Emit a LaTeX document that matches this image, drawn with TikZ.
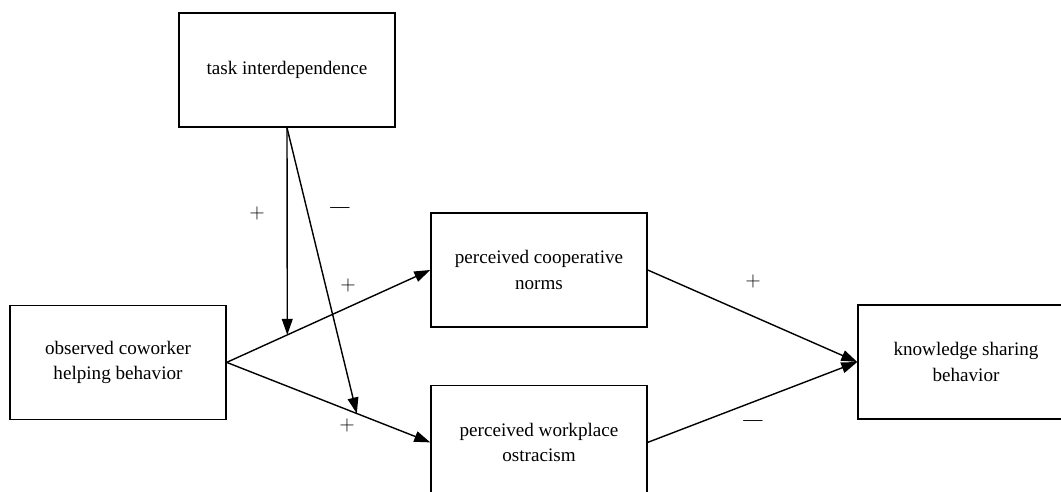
\documentclass[tikz,border=0pt]{standalone}
\usepackage{fontspec}
\setmainfont{Liberation Serif}
\usetikzlibrary{arrows.meta}

\begin{document}
\begin{tikzpicture}[every node/.style={font=\fontsize{13.6}{18.4}\selectfont}, >={Triangle[length=4mm, width=2.7mm]}, box/.style={draw, line width=1pt, minimum width=5.4cm, minimum height=2.85cm, align=center, inner sep=0pt}, lab/.style={inner sep=1pt}, arr/.style={->, line width=1pt}]
	\useasboundingbox (0,0) rectangle (26.525,12.3);
	\node[box] (task) at (7.175,10.55) {task interdependence};
	\node[box] (obs) at (2.95,3.24) {observed coworker\\helping behavior};
	\node[box] (coop) at (13.475,5.55) {perceived cooperative\\norms};
	\node[box] (ostr) at (13.475,1.24) {perceived workplace\\ostracism};
	\node[box] (know) at (24.15,3.25) {knowledge sharing\\behavior};
	\draw[arr] (obs.east) -- (coop.west) coordinate[pos=0.2976] (m1);
	\draw[arr] (obs.east) -- (ostr.west) coordinate[pos=0.639] (m2);
	\draw[arr] (task.south) -- (m1);
	\draw[arr] (task.south) -- (m2);
	\draw[arr] (coop.east) -- (know.west);
	\draw[arr] (ostr.east) -- (know.west);
	\node[lab] (s1) at (6.425,6.975) {$+$};
	\node[lab] (s2) at (8.5,7.05) {---};
	\node[lab] (s3) at (8.7,5.175) {$+$};
	\node[lab] (s4) at (8.675,1.675) {$+$};
	\node[lab] (s5) at (18.825,5.275) {$+$};
	\node[lab] (s6) at (18.825,1.725) {---};
\end{tikzpicture}
\end{document}
